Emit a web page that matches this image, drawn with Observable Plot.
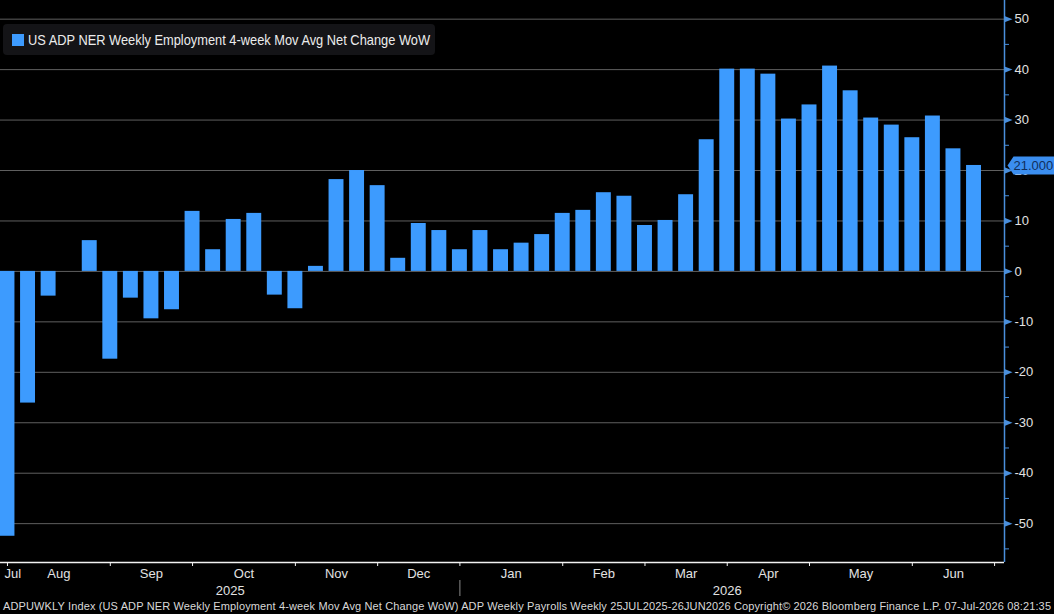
<!DOCTYPE html>
<html>
<head>
<meta charset="utf-8">
<script src="https://cdn.jsdelivr.net/npm/d3@7"></script>
<script src="https://cdn.jsdelivr.net/npm/@observablehq/plot@0.6"></script>
<style>
  html, body { margin: 0; padding: 0; background: #000; overflow: hidden; }
  #wrap { position: relative; width: 1054px; height: 614px; background: #000;
          font-family: "Liberation Sans", Arial, sans-serif; }
  #chart svg { display: block; }
  #legend { position: absolute; left: 3px; top: 24px; width: 432px; height: 31px;
            background: #141417; border-radius: 4px; box-sizing: border-box;
            padding-left: 9px; display: flex; align-items: center;
            color: #ececec; font-size: 14.5px; white-space: nowrap; }
  #legend .sw { width: 12px; height: 12px; background: #3d9bfe; margin-right: 4px; flex: none; }
  #legend #legendText { display: inline-block; transform: scaleX(0.885); transform-origin: left center; }
  #footer { position: absolute; left: 0; top: 600px; }
</style>
</head>
<body>
<div id="wrap">
  <div id="chart"></div>
  <div id="legend"><span class="sw"></span><span id="legendText"></span></div>
  <svg id="footer" width="1054" height="14"></svg>
</div>
<script>
// ADP NER weekly employment, 4-week moving average, net change week over week (thousands)
const seriesName = "US ADP NER Weekly Employment 4-week Mov Avg Net Change WoW";
const weekEnding = d3.utcFriday.range(new Date("2025-08-01"), new Date("2026-06-27"));
const netChange = [
  -52.5, -26.1, -4.9, 0.0, 6.1, -17.4, -5.3, -9.4, -7.6, 11.9,
  4.3, 10.3, 11.5, -4.7, -7.4, 1.0, 18.2, 20.0, 17.0, 2.6,
  9.5, 8.1, 4.3, 8.1, 4.3, 5.6, 7.3, 11.5, 12.1, 15.6,
  14.9, 9.1, 10.1, 15.2, 26.1, 40.1, 40.1, 39.1, 30.2, 33.0,
  40.7, 35.8, 30.4, 29.0, 26.5, 30.8, 24.3, 21.0
];
const monthNames = ["Jul", "Aug", "Sep", "Oct", "Nov", "Dec", "Jan", "Feb", "Mar", "Apr", "May", "Jun"];
const yearNames = ["2025", "2026"];
const yTicks = [-50, -40, -30, -20, -10, 0, 10, 20, 30, 40, 50];
const yMinorTicks = [-55, -45, -35, -25, -15, -5, 5, 15, 25, 35, 45];
const footerText = "ADPUWKLY Index (US ADP NER Weekly Employment 4-week Mov Avg Net Change WoW) ADP Weekly Payrolls Weekly 25JUL2025-26JUN2026  Copyright\u00A9 2026 Bloomberg Finance L.P.  07-Jul-2026 08:21:35";

const rows = weekEnding.map((date, i) => ({date, value: netChange[i]}));
const last = rows[rows.length - 1];

// Month ticks sit on the first weekly bar of each month (plus the week after the last bar)
const monthTicks = [];
rows.forEach((r, i) => {
  if (i === 0 || r.date.getUTCMonth() !== rows[i - 1].date.getUTCMonth()) monthTicks.push(r.date);
});
monthTicks.push(d3.utcWeek.offset(last.date, 1));

// Month names are centred between consecutive ticks
const midpoint = (a, b) => new Date((+a + +b) / 2);
const monthLabelDates = [];
const monthLabelText = new Map();
for (let i = 0; i < monthTicks.length - 1; i++) {
  const m = midpoint(monthTicks[i], monthTicks[i + 1]);
  monthLabelDates.push(m);
  monthLabelText.set(+m, monthNames[i + 1]);
}

const xDomain = [new Date("2025-07-29T15:00Z"), new Date("2026-07-06T09:00Z")];
const yDomain = [-57.7, 53.7];

const yearBreak = monthTicks.find(d => d.getUTCFullYear() === 2026);
const yearLabelDates = [midpoint(xDomain[0], yearBreak), midpoint(yearBreak, monthTicks[monthTicks.length - 1])];
const yearLabelText = new Map(yearLabelDates.map((d, i) => [+d, yearNames[i]]));

const barColor = "#3d9bfe";
const axisBlue = "#4a8fdc";
const tagBlue = "#3b8ef0";
const textColor = "#e2e2e2";

// Right-pointing arrowhead used for the major ticks of the value axis
const arrowHead = {
  draw(ctx) { ctx.moveTo(0, -3.2); ctx.lineTo(8, 0); ctx.lineTo(0, 3.2); ctx.closePath(); }
};
// Pointed tag behind the last value label
const valueTag = {
  draw(ctx) {
    ctx.moveTo(3, 0); ctx.lineTo(9, -9); ctx.lineTo(52, -9);
    ctx.lineTo(52, 9); ctx.lineTo(9, 9); ctx.closePath();
  }
};

const halfBar = 61; // hours either side of the week-ending date

const chart = Plot.plot({
  width: 1054,
  height: 600,
  marginLeft: 0,
  marginRight: 50,
  marginTop: 0,
  marginBottom: 38,
  style: {background: "#000", color: textColor, fontFamily: "'Liberation Sans', Arial, sans-serif", fontSize: "13px"},
  x: {type: "utc", domain: xDomain, axis: null},
  y: {domain: yDomain, axis: null},
  marks: [
    Plot.ruleY(yTicks, {stroke: "#5f5f5f", strokeWidth: 1}),
    Plot.rect(rows, {
      x1: d => d3.utcHour.offset(d.date, -halfBar),
      x2: d => d3.utcHour.offset(d.date, halfBar),
      y1: 0,
      y2: "value",
      fill: barColor
    }),
    Plot.ruleY([yDomain[0]], {stroke: "#f2f2f2", strokeWidth: 1.5}),
    Plot.ruleX([xDomain[1]], {stroke: axisBlue, strokeWidth: 1.5}),
    Plot.axisY(yMinorTicks, {anchor: "right", label: null, tickSize: 4, stroke: axisBlue, fill: null}),
    Plot.axisY(yTicks, {anchor: "right", label: null, tickSize: 0, tickPadding: 10, tickFormat: d => String(d), fill: textColor, fontSize: 13}),
    Plot.dot(yTicks, {y: d => d, frameAnchor: "right", symbol: arrowHead, fill: axisBlue, stroke: null}),
    Plot.axisX(monthTicks, {label: null, tickSize: 4, stroke: "#f2f2f2", fill: null}),
    Plot.axisX(monthLabelDates, {label: null, tickSize: 0, tickPadding: 6.5, tickFormat: d => monthLabelText.get(+d), fill: textColor, fontSize: 13}),
    Plot.text([monthNames[0]], {text: d => d, frameAnchor: "bottom-left", textAnchor: "start", lineAnchor: "top", dx: 4, dy: 6.5, fill: textColor, fontSize: 13}),
    Plot.ruleX([yearBreak], {insetTop: 580, insetBottom: -34, stroke: "#8a8a8a"}),
    Plot.axisX(yearLabelDates, {label: null, tickSize: 0, tickPadding: 23.5, tickFormat: d => yearLabelText.get(+d), fill: textColor, fontSize: 13}),
    Plot.dot([last], {y: "value", frameAnchor: "right", symbol: valueTag, fill: tagBlue, stroke: null}),
    Plot.text([last], {y: "value", frameAnchor: "right", dx: 9, textAnchor: "start", text: d => d.value.toFixed(3), fill: "#112f5c", fontSize: 13})
  ]
});
document.getElementById("chart").appendChild(chart);

document.getElementById("legendText").textContent = seriesName;

const footer = d3.select("#footer");
footer.append("text")
  .attr("x", 3)
  .attr("y", 10)
  .attr("textLength", 1048)
  .attr("lengthAdjust", "spacing")
  .attr("fill", "#d8d8d8")
  .style("font-family", "'Liberation Sans', Arial, sans-serif")
  .style("font-size", "11px")
  .text(footerText);
</script>
</body>
</html>
